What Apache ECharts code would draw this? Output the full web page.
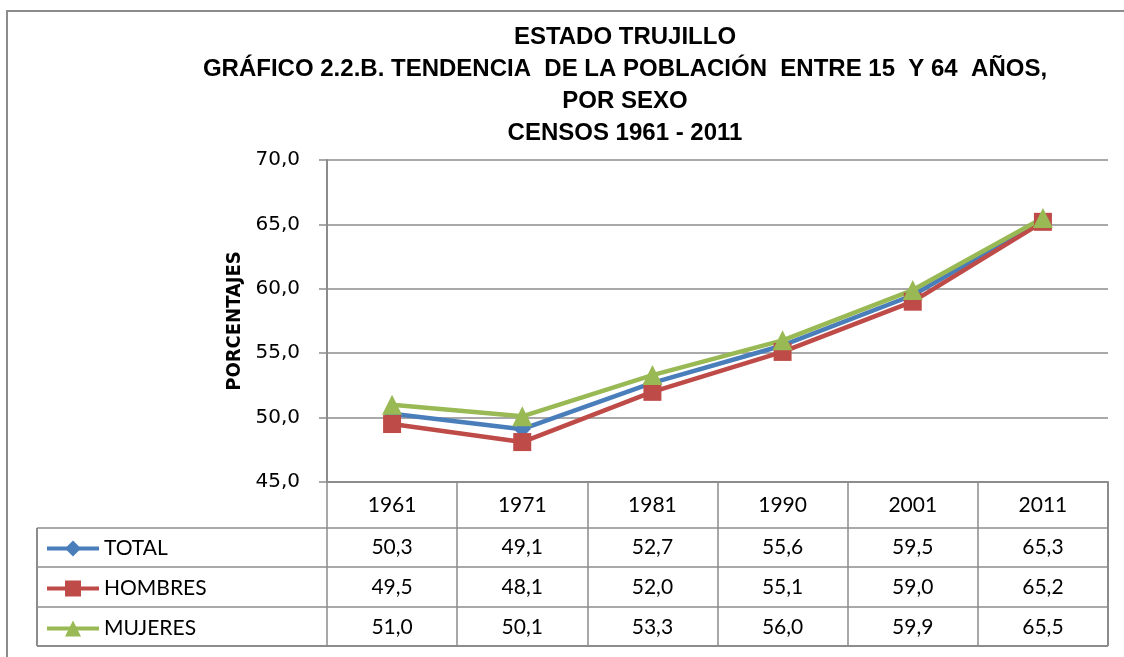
<!DOCTYPE html>
<html>
<head>
<meta charset="utf-8">
<style>
html, body { margin: 0; padding: 0; background: #fff; }
#chart { width: 1124px; height: 657px; }
</style>
</head>
<body>
<div id="chart"></div>
<script src="https://cdn.jsdelivr.net/npm/echarts@6/dist/echarts.min.js"></script>
<script>
// datos del grafico
var years = ['1961', '1971', '1981', '1990', '2001', '2011'];
var total = [50.3, 49.1, 52.7, 55.6, 59.5, 65.3];
var hombres = [49.5, 48.1, 52.0, 55.1, 59.0, 65.2];
var mujeres = [51.0, 50.1, 53.3, 56.0, 59.9, 65.5];
var seriesNames = ['TOTAL', 'HOMBRES', 'MUJERES'];
var yTicks = { min: 45, max: 70, interval: 5 };

var colors = ['#4A7EBB', '#BE4B48', '#98B954'];
var gris = '#8c8c8c';
var tableFont = 'Lato, "Open Sans", sans-serif';

function coma(v) {
	return v.toFixed(1).replace('.', ',');
}

var chart = echarts.init(document.getElementById('chart'));

var option = {
	backgroundColor: '#fff',
	animation: false,
	color: colors,
	title: {
		text: 'ESTADO TRUJILLO\nGRÁFICO 2.2.B. TENDENCIA  DE LA POBLACIÓN  ENTRE 15  Y 64  AÑOS,\nPOR SEXO\nCENSOS 1961 - 2011',
		left: 620,
		top: 16,
		textAlign: 'center',
		textStyle: {
			fontFamily: '"Liberation Sans", sans-serif',
			fontWeight: 'bold',
			fontSize: 24,
			lineHeight: 32,
			color: '#000'
		}
	},
	legend: {
		orient: 'vertical',
		left: 45,
		top: 538,
		padding: 0,
		itemWidth: 52,
		itemHeight: 20,
		itemGap: 19,
		data: seriesNames,
		lineStyle: { width: 4 },
		textStyle: {
			fontFamily: tableFont,
			fontSize: 21,
			lineHeight: 20,
			color: '#000'
		}
	},
	grid: {
		left: 327,
		right: 16,
		top: 160,
		bottom: 175
	},
	xAxis: {
		type: 'category',
		data: years,
		boundaryGap: true,
		axisLine: { lineStyle: { color: gris, width: 2 } },
		axisTick: {
			show: true,
			interval: 0,
			length: 164,
			lineStyle: { color: gris, width: 1.5 }
		},
		axisLabel: {
			margin: 13,
			fontFamily: tableFont,
			fontSize: 21,
			color: '#000'
		}
	},
	yAxis: {
		type: 'value',
		min: yTicks.min,
		max: yTicks.max,
		interval: yTicks.interval,
		name: 'PORCENTAJES',
		nameLocation: 'middle',
		nameRotate: 90,
		nameGap: 82,
		nameTextStyle: {
			fontFamily: '"DejaVu Sans Condensed", "DejaVu Sans", sans-serif',
			fontWeight: 'bold',
			fontSize: 20,
			color: '#000'
		},
		axisLine: { show: true, lineStyle: { color: gris, width: 2 } },
		axisTick: { show: true, length: 8, lineStyle: { color: gris, width: 1.5 } },
		splitLine: { lineStyle: { color: gris, width: 1.5 } },
		axisLabel: {
			margin: 27,
			fontFamily: '"DejaVu Sans", sans-serif',
			fontSize: 20,
			color: '#000',
			formatter: function (v) { return coma(v); }
		}
	},
	series: [
		{
			name: seriesNames[0],
			type: 'line',
			data: total,
			symbol: 'diamond',
			symbolSize: 17,
			lineStyle: { width: 4.5 }
		},
		{
			name: seriesNames[1],
			type: 'line',
			data: hombres,
			symbol: 'rect',
			symbolSize: 18,
			lineStyle: { width: 4.5 }
		},
		{
			name: seriesNames[2],
			type: 'line',
			data: mujeres,
			symbol: 'triangle',
			symbolSize: 20,
			lineStyle: { width: 4.5 }
		}
	]
};
chart.setOption(option);

// tabla de datos debajo del grafico
var rows = [total, hombres, mujeres];
var rowY = [547, 587, 627];
var graphic = [
	{
		type: 'rect',
		shape: { x: 7, y: 11, width: 1140, height: 700 },
		style: { fill: 'none', stroke: gris, lineWidth: 2 },
		silent: true
	},
	{ type: 'line', shape: { x1: 37, y1: 528, x2: 1108, y2: 528 }, style: { stroke: gris, lineWidth: 1.5 } },
	{ type: 'line', shape: { x1: 37, y1: 567, x2: 1108, y2: 567 }, style: { stroke: gris, lineWidth: 1.5 } },
	{ type: 'line', shape: { x1: 37, y1: 607, x2: 1108, y2: 607 }, style: { stroke: gris, lineWidth: 1.5 } },
	{ type: 'line', shape: { x1: 37, y1: 646, x2: 1108, y2: 646 }, style: { stroke: gris, lineWidth: 2 } },
	{ type: 'line', shape: { x1: 37, y1: 528, x2: 37, y2: 646 }, style: { stroke: gris, lineWidth: 2 } },
	{ type: 'line', shape: { x1: 1108, y1: 482, x2: 1108, y2: 646 }, style: { stroke: gris, lineWidth: 2 } }
];
rows.forEach(function (vals, r) {
	vals.forEach(function (v, i) {
		var x = chart.convertToPixel({ xAxisIndex: 0 }, i);
		graphic.push({
			type: 'text',
			x: x,
			y: rowY[r],
			style: {
				text: coma(v),
				fill: '#000',
				font: '21px ' + tableFont,
				align: 'center',
				verticalAlign: 'middle'
			}
		});
	});
});
chart.setOption({ graphic: graphic });
</script>
</body>
</html>
